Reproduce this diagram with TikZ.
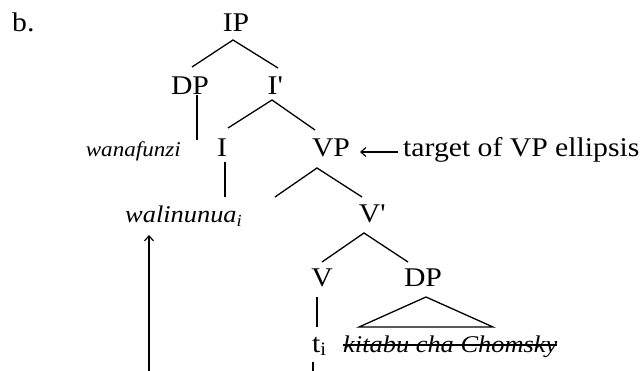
\documentclass[tikz,border=0pt]{standalone}
\usepackage{fontspec}
\setmainfont[FakeStretch=1.1]{Liberation Serif}
\usetikzlibrary{arrows.meta}
\begin{document}
\begin{tikzpicture}[x=1pt,y=-1pt,
  lab/.style={anchor=base,inner sep=0pt,font=\fontsize{27}{30}\selectfont},
  itl/.style={anchor=base,inner sep=0pt,font=\fontsize{24}{28}\selectfont\itshape},
  br/.style={line width=1.3pt},
  mv/.style={line width=1.2pt,-{Straight Barb[length=5pt,width=9pt]}}]
\useasboundingbox (0,0) rectangle (642,371);
\node[lab,anchor=base west] (b) at (12,32) {b.};
\node[lab] (IP) at (236,32) {IP};
\node[lab] (DP1) at (190,95) {DP};
\node[lab] (Ib) at (275,95) {I\textquotesingle};
\node[itl,anchor=base east,font=\fontsize{21}{24}\selectfont\itshape] (wan) at (181,157) {wanafunzi};
\node[lab] (I) at (222,157) {I};
\node[lab] (VP) at (331,157) {VP};
\node[lab,anchor=base west] (tgt) at (403,157) {target of VP ellipsis};
\node[itl,anchor=base west] (wal) at (125,223) {walinunua\textsubscript{i}};
\node[lab] (Vb) at (372,223) {V\textquotesingle};
\coordinate (empty) at (275,197);
\node[lab] (V) at (322,287) {V};
\node[lab] (DP2) at (423,287) {DP};
\node[lab,anchor=base west] (t) at (312,352) {t\textsubscript{i}};
\node[itl,anchor=base west] (kit) at (343,352) {kitabu cha Chomsky};
\coordinate (bl) at (149,371);
\coordinate (bt) at (313,371);
% branches
\draw[br] ([xshift=2pt,yshift=28pt]DP1.base) -- ([xshift=-3pt,yshift=-8pt]IP.base) -- ([xshift=3pt,yshift=27pt]Ib.base);
\draw[br] ([xshift=7pt]DP1.base) -- ([xshift=16pt,yshift=17pt]wan.base east);
\draw[br] ([xshift=6pt,yshift=29pt]I.base) -- ([xshift=-3pt,yshift=-5pt]Ib.base) -- ([xshift=-16pt,yshift=27pt]VP.base);
\draw[br] ([xshift=3pt,yshift=-5pt]I.base) -- ([xshift=100pt,yshift=26pt]wal.base west);
\draw[br] (empty) -- ([xshift=-14pt,yshift=-11pt]VP.base) -- ([xshift=-10pt,yshift=26pt]Vb.base);
\draw[br] ([yshift=25pt]V.base) -- ([xshift=-8pt,yshift=-10pt]Vb.base) -- ([xshift=-15pt,yshift=25pt]DP2.base);
\draw[br] ([xshift=-5pt,yshift=-10pt]V.base) -- ([xshift=5pt,yshift=25pt]t.base west);
\draw[br] ([xshift=3pt,yshift=-10pt]DP2.base) -- ([xshift=16pt,yshift=25pt]kit.base west) -- ([xshift=150pt,yshift=25pt]kit.base west) -- cycle;
\draw[br] ([yshift=7pt]kit.base west) -- ([yshift=7pt]kit.base east);
% movement lines
\draw[br] ([xshift=1pt,yshift=-10pt]t.base west) -- (bt);
\draw[mv] (bl) -- ([xshift=24pt,yshift=-12pt]wal.base west);
\draw[mv] ([xshift=-5pt,yshift=5pt]tgt.base west) -- ([xshift=29pt,yshift=5pt]VP.base);
\end{tikzpicture}
\end{document}
